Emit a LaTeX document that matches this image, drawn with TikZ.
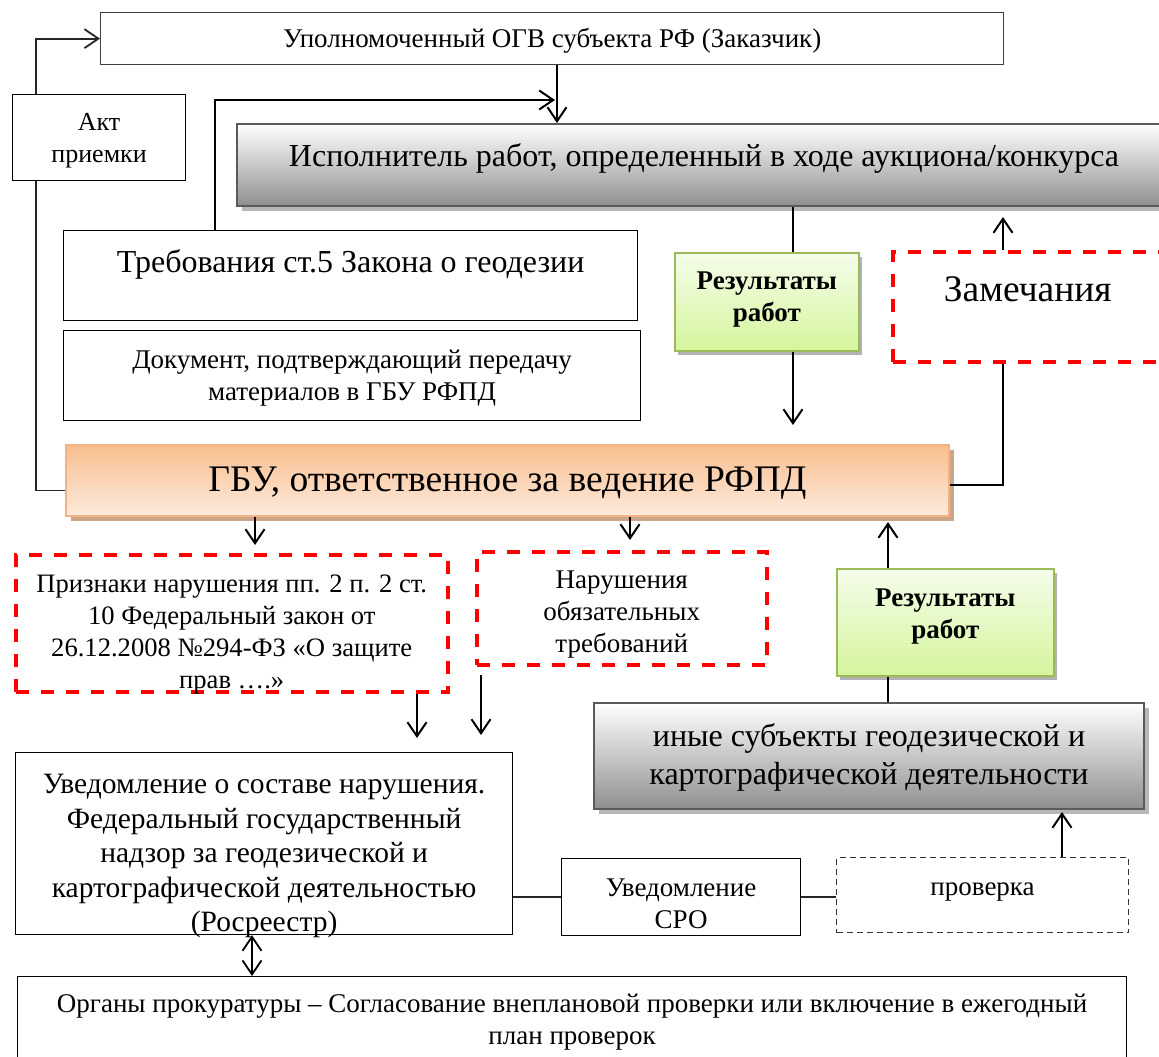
\documentclass[tikz,border=0pt]{standalone}
\usepackage{fontspec}
\setmainfont{Liberation Serif}
\usetikzlibrary{arrows.meta,shadows}

\definecolor{grayBot}{HTML}{8F8F8F}
\definecolor{grayBorder}{HTML}{5A5A5A}
\definecolor{orTop}{HTML}{F8BE8E}
\definecolor{orBot}{HTML}{FDEBDD}
\definecolor{orBorder}{HTML}{F4B183}
\definecolor{orShadow}{HTML}{CDA587}
\definecolor{grTop}{HTML}{F5FDEB}
\definecolor{grBot}{HTML}{D5F59C}
\definecolor{grBorder}{HTML}{9BBB59}
\definecolor{redDash}{HTML}{FF0000}

\newcommand\btxt[2]{\raisebox{\dimexpr #1pt-.25em-2pt\relax}[0pt][0pt]{\begin{tabular}{@{}c@{}}#2\end{tabular}}}

\tikzset{
  base/.style={rectangle, inner sep=0pt, anchor=north west},
  plainbox/.style={base, draw=black, line width=1.2pt, fill=white},
  topbox/.style={base, draw=black!75, line width=1.3pt, fill=white},
  graybox/.style={base, draw=grayBorder, line width=2pt, top color=white, bottom color=grayBot,
    drop shadow={shadow xshift=5pt, shadow yshift=-5pt, fill=black!28, opacity=1}},
  orangebox/.style={base, draw=orBorder, line width=2pt, top color=orTop, bottom color=orBot,
    drop shadow={shadow xshift=5pt, shadow yshift=-5pt, fill=orShadow, opacity=1}},
  greenbox/.style={base, draw=grBorder, line width=1.6pt, top color=grTop, bottom color=grBot,
    drop shadow={shadow xshift=3pt, shadow yshift=-4pt, fill=black!30, opacity=1}},
  reddash/.style={base, draw=redDash, line width=3.5pt, dash pattern=on 13pt off 12pt, fill=white},
  blackdash/.style={base, draw=black!80, line width=1.1pt, dash pattern=on 6pt off 4pt, fill=white},
  arr/.style={line width=2pt, -{Straight Barb[length=14pt, width=19pt]}},
  dblarr/.style={line width=1.8pt, {Straight Barb[length=14pt, width=19pt]}-{Straight Barb[length=14pt, width=19pt]}},
  ln/.style={line width=2pt},
  thinln/.style={line width=1.4pt, black!85},
}

\begin{document}
\begin{tikzpicture}[x=1pt, y=-1pt]
\useasboundingbox (0,0) rectangle (1159,1057);

% boxes
\node[topbox, minimum width=903pt, minimum height=52pt, font={\fontsize{27}{32}\selectfont}] (top) at (100,12)
  {\btxt{0}{Уполномоченный ОГВ субъекта РФ (Заказчик)}};
\node[plainbox, minimum width=173pt, minimum height=86pt, font={\fontsize{26}{32}\selectfont}] (akt) at (12,94)
  {\btxt{0}{Акт\\приемки}};
\node[graybox, minimum width=934pt, minimum height=82pt, font={\fontsize{32}{38}\selectfont}] (isp) at (236,123)
  {\btxt{10}{Исполнитель работ, определенный в ходе аукциона/конкурса}};
\node[plainbox, minimum width=574pt, minimum height=90pt, font={\fontsize{32}{36}\selectfont}] (treb) at (63,230)
  {\btxt{14}{Требования ст.5 Закона о геодезии}};
\node[plainbox, minimum width=577pt, minimum height=90pt, font={\fontsize{27}{32}\selectfont}] (doc) at (63,330)
  {\btxt{0}{Документ, подтверждающий передачу\\материалов в ГБУ РФПД}};
\node[greenbox, minimum width=184pt, minimum height=98pt, font={\fontsize{27}{32}\selectfont\bfseries}] (green1) at (674,252)
  {\btxt{5}{Результаты\\работ}};
\node[reddash, minimum width=284pt, minimum height=110pt, font={\fontsize{37.5}{42}\selectfont}] (zam) at (891,250)
  {\hspace*{-14pt}\btxt{19}{Замечания}};
\node[orangebox, minimum width=883pt, minimum height=71pt, font={\fontsize{37.5}{42}\selectfont}] (gbu) at (65,444)
  {\btxt{3}{ГБУ, ответственное за ведение РФПД}};
\node[reddash, minimum width=432pt, minimum height=137pt, font={\fontsize{26.6}{32}\selectfont}] (priz) at (14,553)
  {\btxt{-8.5}{Признаки нарушения пп. 2 п. 2 ст.\\10 Федеральный закон от\\26.12.2008 №294-ФЗ «О защите\\прав ….»}};
\node[reddash, minimum width=290pt, minimum height=113pt, font={\fontsize{27}{32}\selectfont}] (nar) at (475,550)
  {\btxt{-3.5}{Нарушения\\обязательных\\требований}};
\node[greenbox, minimum width=217pt, minimum height=107pt, font={\fontsize{27}{32}\selectfont\bfseries}] (green2) at (836,568)
  {\btxt{9}{Результаты\\работ}};
\node[graybox, minimum width=550pt, minimum height=106pt, font={\fontsize{32}{38}\selectfont}] (inye) at (593,702)
  {\btxt{2}{иные субъекты геодезической и\\картографической деятельности}};
\node[plainbox, minimum width=497pt, minimum height=182pt, font={\fontsize{29.5}{34.5}\selectfont}] (uved) at (15,752)
  {\btxt{-9}{Уведомление о составе нарушения.\\Федеральный государственный\\надзор за геодезической и\\картографической деятельностью\\(Росреестр)}};
\node[plainbox, minimum width=239pt, minimum height=77pt, font={\fontsize{27}{32}\selectfont}] (sro) at (561,858)
  {\btxt{-6}{Уведомление\\СРО}};
\node[blackdash, minimum width=292pt, minimum height=75pt, font={\fontsize{27}{32}\selectfont}] (prov) at (836,857)
  {\btxt{8.5}{проверка}};
\node[plainbox, minimum width=1109pt, minimum height=90pt, font={\fontsize{27}{32}\selectfont}] (org) at (17,976)
  {\btxt{2}{Органы прокуратуры – Согласование внеплановой проверки или включение в ежегодный\\план проверок}};

% guide coordinates
\coordinate (L)  at (36,0);
\coordinate (xa) at (557,0);
\coordinate (xb) at (215,0);
\coordinate (xc) at (793,0);
\coordinate (xd) at (1003,0);
\coordinate (xe) at (255,0);
\coordinate (xf) at (630,0);
\coordinate (xg) at (417,0);
\coordinate (xi) at (888,0);
\coordinate (xk) at (1062,0);
\coordinate (xl) at (252,0);
\coordinate (y485) at (0,485);
\coordinate (y897) at (0,897);
\coordinate (e1) at (555,100);
\coordinate (e2) at (793,425);
\coordinate (e3) at (1003,217);
\coordinate (e4) at (255,545);
\coordinate (e5) at (630,540);
\coordinate (e6) at (417,738);
\coordinate (e7s) at (481,675);
\coordinate (e7) at (481,735);
\coordinate (e8) at (888,522);
\coordinate (e9) at (1062,812);

% connectors
\draw[thinln] ([yshift=-10pt]gbu.west) -| (akt.south -| L);
\draw[thinln, -{Straight Barb[length=14pt, width=19pt]}, line width=1.8pt] (akt.north -| L) |- (top.west);
\draw[arr] (top.south -| xa) -- (isp.north -| xa);
\draw[arr] (treb.north -| xb) |- (e1);
\draw[ln] (isp.south -| xc) -- (green1.north -| xc);
\draw[arr] (green1.south -| xc) -- (e2);
\draw[arr] (zam.north -| xd) -- (e3);
\draw[ln] (zam.south -| xd) |- (gbu.east |- y485);
\draw[arr] (gbu.south -| xe) -- (e4);
\draw[arr] (gbu.south -| xf) -- (e5);
\draw[arr] (priz.south -| xg) -- (e6);
\draw[arr] (e7s) -- (e7);
\draw[arr] (green2.north -| xi) -- (e8);
\draw[ln] (inye.north -| xi) -- (green2.south -| xi);
\draw[arr] (prov.north -| xk) -- (e9);
\draw[thinln] (uved.east |- y897) -- (sro.west |- y897);
\draw[thinln] (sro.east |- y897) -- (prov.west |- y897);
\draw[dblarr] (uved.south -| xl) -- (org.north -| xl);
\end{tikzpicture}
\end{document}
